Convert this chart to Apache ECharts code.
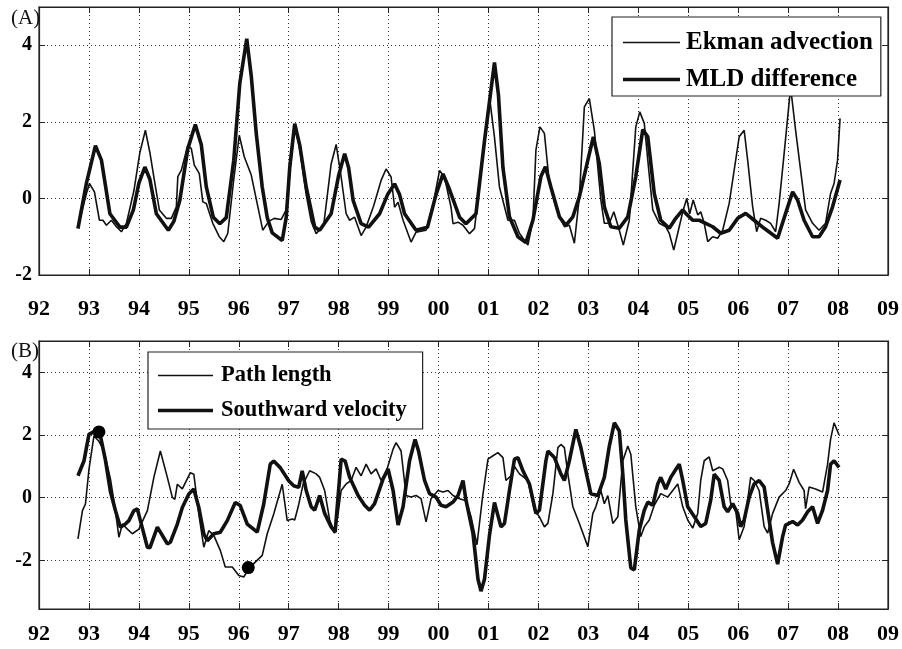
<!DOCTYPE html>
<html>
<head>
<meta charset="utf-8">
<script src="https://cdn.jsdelivr.net/npm/echarts@6/dist/echarts.min.js"></script>
<style>
  html, body { margin: 0; padding: 0; background: #fff; }
  #chart { width: 902px; height: 649px; }
</style>
</head>
<body>
<div id="chart"></div>
<script>
// values, [year, anomaly]
const ekmanAdvection = [
  [1992.78,-0.74],[1992.95,0.13],[1993.01,0.39],[1993.11,0.17],[1993.15,0.13],[1993.21,-0.57],[1993.28,-0.57],
  [1993.35,-0.7],[1993.45,-0.57],[1993.55,-0.74],[1993.65,-0.87],[1993.75,-0.65],[1993.9,0.2],[1994.02,1.2],
  [1994.13,1.78],[1994.22,1.2],[1994.31,0.48],[1994.41,-0.3],[1994.55,-0.52],[1994.65,-0.52],[1994.75,-0.22],
  [1994.78,0.57],[1994.85,0.74],[1994.98,1.39],[1995.05,1.3],[1995.11,0.87],[1995.21,0.65],[1995.28,-0.09],
  [1995.35,-0.13],[1995.48,-0.65],[1995.61,-1.0],[1995.7,-1.13],[1995.78,-0.91],[1995.9,0.5],[1996.01,1.65],
  [1996.11,1.09],[1996.25,0.61],[1996.41,-0.39],[1996.48,-0.83],[1996.6,-0.6],[1996.71,-0.52],[1996.85,-0.55],
  [1996.95,-0.3],[1997.03,0.8],[1997.12,1.9],[1997.22,1.3],[1997.35,0.1],[1997.45,-0.6],[1997.55,-0.92],
  [1997.7,-0.7],[1997.85,0.9],[1997.95,1.41],[1998.05,0.56],[1998.15,-0.4],[1998.22,-0.57],[1998.32,-0.49],
  [1998.45,-0.97],[1998.55,-0.75],[1998.7,-0.2],[1998.85,0.47],[1998.95,0.77],[1999.05,0.56],[1999.12,-0.23],
  [1999.19,-0.1],[1999.29,-0.57],[1999.45,-1.14],[1999.55,-0.88],[1999.75,-0.83],[1999.9,-0.1],[2000.02,0.73],
  [2000.12,0.56],[2000.25,-0.23],[2000.29,-0.66],[2000.39,-0.62],[2000.49,-0.7],[2000.62,-0.92],[2000.72,-0.79],
  [2000.88,1.0],[2001.03,2.55],[2001.12,1.6],[2001.22,0.3],[2001.39,-0.57],[2001.52,-0.57],[2001.62,-0.91],
  [2001.79,-1.22],[2001.89,-0.57],[2001.95,1.26],[2002.03,1.87],[2002.12,1.7],[2002.22,0.39],[2002.35,-0.22],
  [2002.42,-0.48],[2002.52,-0.74],[2002.62,-0.7],[2002.72,-1.17],[2002.82,0.04],[2002.92,2.39],[2003.02,2.61],
  [2003.12,1.78],[2003.25,-0.04],[2003.32,-0.65],[2003.42,-0.65],[2003.51,-0.35],[2003.62,-0.83],[2003.7,-1.22],
  [2003.82,-0.57],[2003.95,1.87],[2004.03,2.26],[2004.12,1.96],[2004.19,1.0],[2004.29,-0.3],[2004.42,-0.65],
  [2004.55,-0.74],[2004.62,-0.91],[2004.71,-1.35],[2004.82,-0.74],[2004.9,-0.3],[2004.97,0.0],[2005.03,-0.4],
  [2005.1,-0.04],[2005.19,-0.43],[2005.25,-0.35],[2005.32,-0.65],[2005.39,-1.13],[2005.49,-1.0],[2005.59,-1.04],
  [2005.69,-0.83],[2005.82,-0.13],[2005.92,0.74],[2006.02,1.61],[2006.12,1.78],[2006.19,1.0],[2006.29,-0.22],
  [2006.37,-0.87],[2006.45,-0.52],[2006.55,-0.57],[2006.65,-0.65],[2006.75,-0.87],[2006.82,-0.13],[2006.92,1.17],
  [2007.05,2.9],[2007.15,1.78],[2007.25,0.74],[2007.35,-0.3],[2007.49,-0.65],[2007.62,-0.83],[2007.75,-0.65],
  [2007.85,0.13],[2007.92,0.39],[2007.99,1.0],[2008.04,2.09]
];

const mldDifference = [
  [1992.78,-0.79],[1992.95,0.4],[1993.13,1.38],[1993.25,1.0],[1993.42,-0.4],[1993.62,-0.75],[1993.75,-0.75],
  [1993.89,-0.3],[1994.0,0.4],[1994.12,0.82],[1994.22,0.5],[1994.35,-0.4],[1994.59,-0.83],[1994.7,-0.6],
  [1994.82,-0.05],[1994.98,1.3],[1995.13,1.93],[1995.25,1.4],[1995.35,0.3],[1995.49,-0.49],[1995.62,-0.66],
  [1995.75,-0.5],[1995.9,1.0],[1996.02,3.0],[1996.16,4.17],[1996.25,3.2],[1996.35,1.7],[1996.47,0.3],
  [1996.57,-0.5],[1996.67,-0.9],[1996.87,-1.1],[1996.95,-0.5],[1997.02,0.8],[1997.12,1.95],[1997.22,1.4],
  [1997.35,0.3],[1997.52,-0.75],[1997.62,-0.83],[1997.85,-0.4],[1998.0,0.6],[1998.12,1.17],[1998.2,0.8],
  [1998.29,-0.05],[1998.45,-0.66],[1998.6,-0.75],[1998.82,-0.4],[1998.98,0.1],[1999.12,0.38],[1999.22,0.1],
  [1999.32,-0.4],[1999.55,-0.83],[1999.78,-0.75],[1999.95,0.1],[2000.09,0.64],[2000.2,0.3],[2000.42,-0.49],
  [2000.55,-0.66],[2000.75,-0.4],[2000.92,1.5],[2001.12,3.55],[2001.2,2.7],[2001.29,0.8],[2001.42,-0.48],
  [2001.59,-1.0],[2001.75,-1.15],[2001.89,-0.57],[2002.05,0.57],[2002.14,0.83],[2002.25,0.3],[2002.42,-0.48],
  [2002.55,-0.7],[2002.69,-0.48],[2002.82,0.04],[2002.99,1.0],[2003.1,1.61],[2003.22,0.91],[2003.32,-0.22],
  [2003.45,-0.74],[2003.62,-0.78],[2003.79,-0.48],[2003.95,0.57],[2004.09,1.8],[2004.19,1.61],[2004.32,0.13],
  [2004.45,-0.57],[2004.62,-0.78],[2004.75,-0.52],[2004.89,-0.3],[2004.95,-0.39],[2005.09,-0.57],[2005.22,-0.57],
  [2005.35,-0.65],[2005.49,-0.74],[2005.65,-0.91],[2005.82,-0.83],[2005.99,-0.52],[2006.15,-0.39],[2006.32,-0.57],
  [2006.52,-0.78],[2006.79,-1.04],[2006.95,-0.39],[2007.09,0.17],[2007.19,-0.04],[2007.32,-0.57],[2007.49,-1.0],
  [2007.62,-1.0],[2007.75,-0.74],[2007.89,-0.22],[2008.04,0.48]
];

const pathLength = [
  [1992.78,-1.31],[1992.87,-0.41],[1992.93,-0.2],[1993.0,0.9],[1993.1,1.97],[1993.2,1.8],[1993.3,1.5],
  [1993.43,0.6],[1993.52,-0.3],[1993.6,-1.26],[1993.67,-0.84],[1993.77,-1.0],[1993.87,-1.15],[1994.0,-1.0],
  [1994.17,-0.41],[1994.3,0.65],[1994.43,1.49],[1994.57,0.65],[1994.67,0.01],[1994.72,-0.05],[1994.77,0.43],
  [1994.87,0.28],[1995.03,0.8],[1995.1,0.75],[1995.2,-0.52],[1995.3,-1.58],[1995.4,-1.05],[1995.5,-1.2],
  [1995.63,-1.68],[1995.73,-2.21],[1995.87,-2.21],[1996.0,-2.48],[1996.1,-2.53],[1996.2,-2.26],[1996.3,-2.1],
  [1996.47,-1.84],[1996.57,-1.15],[1996.7,-0.52],[1996.87,0.43],[1996.97,-0.73],[1997.07,-0.68],[1997.12,-0.71],
  [1997.19,-0.29],[1997.29,0.44],[1997.42,0.86],[1997.55,0.76],[1997.62,0.65],[1997.72,0.23],[1997.82,-0.71],
  [1997.92,-1.13],[1997.99,-0.5],[1998.05,0.23],[1998.15,0.44],[1998.25,0.55],[1998.35,0.97],[1998.45,0.7],
  [1998.55,1.07],[1998.65,0.76],[1998.75,0.92],[1998.85,0.55],[1998.95,0.81],[1999.09,1.55],[1999.15,1.76],
  [1999.25,1.49],[1999.35,0.07],[1999.45,0.02],[1999.55,0.07],[1999.65,-0.03],[1999.75,-0.77],[1999.85,-0.03],
  [1999.99,0.23],[2000.09,0.18],[2000.19,0.23],[2000.29,0.07],[2000.42,-0.03],[2000.55,-0.1],[2000.65,-0.6],
  [2000.77,-1.5],[2000.88,0.0],[2000.99,1.23],[2001.09,1.34],[2001.19,1.44],[2001.29,1.28],[2001.35,0.55],
  [2001.45,0.7],[2001.52,1.0],[2001.62,0.76],[2001.79,0.55],[2001.92,-0.4],[2002.02,-0.61],[2002.12,-0.93],
  [2002.19,-0.82],[2002.29,0.13],[2002.39,1.6],[2002.45,1.7],[2002.52,1.6],[2002.59,0.76],[2002.69,-0.29],
  [2002.82,-0.82],[2002.99,-1.56],[2003.09,-0.5],[2003.15,-0.29],[2003.25,0.23],[2003.32,-0.19],[2003.39,0.07],
  [2003.49,-0.82],[2003.59,-0.61],[2003.69,1.18],[2003.79,1.65],[2003.85,1.39],[2003.95,-0.29],[2004.05,-1.24],
  [2004.12,-0.93],[2004.22,-0.71],[2004.32,-0.24],[2004.45,0.13],[2004.59,0.02],[2004.69,0.23],[2004.79,0.44],
  [2004.89,-0.29],[2004.99,-0.71],[2005.09,-0.97],[2005.19,-0.5],[2005.25,0.55],[2005.32,1.18],[2005.42,1.3],
  [2005.49,0.86],[2005.62,0.97],[2005.69,0.92],[2005.79,0.55],[2005.85,-0.19],[2005.95,-0.4],[2006.02,-1.34],
  [2006.12,-0.92],[2006.25,0.65],[2006.32,0.55],[2006.42,0.23],[2006.52,-0.92],[2006.59,-1.13],[2006.69,-0.5],
  [2006.82,0.02],[2006.95,0.23],[2007.02,0.44],[2007.11,0.91],[2007.22,0.49],[2007.32,0.23],[2007.35,-0.35],
  [2007.42,0.34],[2007.55,0.28],[2007.69,0.18],[2007.79,1.07],[2007.85,1.86],[2007.92,2.39],[2008.02,2.0]
];

const southwardVelocity = [
  [1992.78,0.7],[1992.9,1.17],[1993.0,2.02],[1993.13,2.13],[1993.23,1.97],[1993.33,1.2],[1993.43,0.2],
  [1993.53,-0.41],[1993.63,-0.94],[1993.73,-0.84],[1993.8,-0.73],[1993.9,-0.41],[1993.97,-0.36],[1994.03,-0.73],
  [1994.17,-1.58],[1994.22,-1.6],[1994.37,-0.94],[1994.57,-1.47],[1994.63,-1.42],[1994.77,-0.84],[1994.87,-0.31],
  [1995.0,0.12],[1995.1,0.28],[1995.2,-0.31],[1995.3,-1.15],[1995.37,-1.37],[1995.5,-1.15],[1995.63,-1.1],
  [1995.77,-0.73],[1995.93,-0.15],[1996.03,-0.25],[1996.17,-0.84],[1996.37,-1.1],[1996.5,-0.2],[1996.63,1.07],
  [1996.7,1.17],[1996.83,0.96],[1997.0,0.54],[1997.1,0.38],[1997.2,0.33],[1997.27,0.86],[1997.35,0.23],
  [1997.45,-0.29],[1997.52,-0.4],[1997.62,0.07],[1997.72,-0.5],[1997.85,-0.93],[1997.93,-1.1],[1998.05,1.23],
  [1998.13,1.17],[1998.22,0.65],[1998.39,0.07],[1998.52,-0.24],[1998.62,-0.4],[1998.72,-0.19],[1998.89,0.6],
  [1998.99,0.92],[1999.09,0.23],[1999.19,-0.87],[1999.29,-0.29],[1999.42,1.18],[1999.53,1.86],[1999.6,1.49],
  [1999.72,0.55],[1999.82,0.13],[1999.95,0.02],[2000.05,-0.24],[2000.15,-0.29],[2000.29,-0.14],[2000.39,0.07],
  [2000.49,0.55],[2000.55,-0.08],[2000.69,-1.14],[2000.79,-2.6],[2000.85,-2.98],[2000.92,-2.6],[2001.02,-1.2],
  [2001.12,-0.15],[2001.25,-0.93],[2001.32,-0.82],[2001.42,0.23],[2001.52,1.23],[2001.59,1.28],[2001.69,0.86],
  [2001.82,0.44],[2001.95,-0.5],[2002.02,-0.4],[2002.15,1.18],[2002.19,1.49],[2002.32,1.28],[2002.45,0.76],
  [2002.52,0.55],[2002.62,1.18],[2002.75,2.18],[2002.85,1.6],[2002.95,0.86],[2003.05,0.13],[2003.19,0.07],
  [2003.32,0.65],[2003.42,1.65],[2003.52,2.39],[2003.62,2.13],[2003.69,0.76],[2003.75,-0.71],[2003.85,-2.24],
  [2003.92,-2.3],[2004.02,-1.03],[2004.12,-0.4],[2004.19,-0.14],[2004.29,-0.24],[2004.39,0.44],[2004.45,0.65],
  [2004.55,0.28],[2004.65,0.65],[2004.75,0.9],[2004.82,1.07],[2004.89,0.55],[2004.99,-0.29],[2005.12,-0.6],
  [2005.25,-0.92],[2005.35,-0.82],[2005.45,-0.08],[2005.52,0.75],[2005.62,0.55],[2005.72,-0.29],[2005.79,-0.45],
  [2005.89,-0.19],[2005.99,-0.5],[2006.05,-0.92],[2006.12,-0.71],[2006.22,0.02],[2006.32,0.44],[2006.42,0.55],
  [2006.52,0.34],[2006.62,-0.71],[2006.69,-1.44],[2006.79,-2.12],[2006.89,-1.24],[2006.95,-0.87],[2007.09,-0.76],
  [2007.19,-0.87],[2007.29,-0.71],[2007.39,-0.45],[2007.49,-0.29],[2007.59,-0.82],[2007.69,-0.4],[2007.79,0.23],
  [2007.85,1.07],[2007.92,1.18],[2008.02,0.97]
];

// the two marked events in panel B
const markedPoints = [[1993.2, 2.1], [1996.19, -2.23]];

const yTicks = [-2, 0, 2, 4];

const serif = "'Liberation Serif', 'Times New Roman', serif";
const chart = echarts.init(document.getElementById('chart'));

const frame = { show: true, onZero: false, lineStyle: { color: '#222', width: 1.2 } };
const tick = { show: true, inside: true, length: 6, lineStyle: { color: '#222' } };
const dotted = { show: true, lineStyle: { color: '#333', type: [1, 3], width: 1 } };

function bottomAxis(grid, margin) {
  return {
    gridIndex: grid, type: 'value', position: 'bottom', min: 1992, max: 2009, interval: 1,
    axisLine: frame, axisTick: tick,
    axisLabel: {
      margin: margin, color: '#000', fontFamily: serif, fontWeight: 'bold', fontSize: 22,
      formatter: v => String(Math.round(v) % 100).padStart(2, '0')
    },
    splitLine: dotted
  };
}
function topAxis(grid) {
  return {
    gridIndex: grid, type: 'value', position: 'top', min: 1992, max: 2009, interval: 1,
    axisLine: frame, axisTick: tick, axisLabel: { show: false }, splitLine: { show: false }
  };
}
function leftAxis(grid, min) {
  return {
    gridIndex: grid, type: 'value', position: 'left', min: min, max: 5,
    axisLine: frame, axisTick: Object.assign({ customValues: yTicks }, tick),
    axisLabel: { margin: 7, customValues: yTicks, color: '#000', fontFamily: serif, fontWeight: 'bold', fontSize: 20 },
    splitLine: dotted
  };
}
function rightAxis(grid, min) {
  return {
    gridIndex: grid, type: 'value', position: 'right', min: min, max: 5,
    axisLine: frame, axisTick: Object.assign({ customValues: yTicks }, tick),
    axisLabel: { show: false }, splitLine: { show: false }
  };
}

function lineSeries(name, data, axis, width) {
  return {
    name: name, type: 'line', data: data, xAxisIndex: axis, yAxisIndex: axis,
    symbol: 'none', smooth: false,
    lineStyle: { color: '#111', width: width }, itemStyle: { color: '#111' }
  };
}

const thinIcon = 'path://M0,0H57V1.6H0Z';
const thickIcon = 'path://M0,0H57V3.6H0Z';

chart.setOption({
  animation: false,
  backgroundColor: '#fff',
  title: [
    { text: '(A)', left: 6, top: 3, textStyle: { fontFamily: serif, fontWeight: 'normal', fontSize: 21, color: '#111' } },
    { text: '(B)', left: 6, top: 336, textStyle: { fontFamily: serif, fontWeight: 'normal', fontSize: 21, color: '#111' } }
  ],
  grid: [
    { left: 39, top: 7, width: 850, height: 268, show: true, borderColor: '#222', borderWidth: 1.2, backgroundColor: 'transparent' },
    { left: 39, top: 341, width: 850, height: 268, show: true, borderColor: '#222', borderWidth: 1.2, backgroundColor: 'transparent' }
  ],
  legend: [
    {
      data: [{ name: 'Ekman advection', icon: thinIcon }, { name: 'MLD difference', icon: thickIcon }],
      orient: 'vertical', left: 612, top: 17,
      padding: [13, 8, 4, 11], itemWidth: 57, itemHeight: 24, itemGap: 12,
      backgroundColor: '#fff', borderColor: '#222', borderWidth: 1.2,
      textStyle: { fontFamily: serif, fontWeight: 'bold', fontSize: 25, lineHeight: 24, color: '#000', padding: [0, 0, 0, 1] }
    },
    {
      data: [{ name: 'Path length', icon: thinIcon }, { name: 'Southward velocity', icon: thickIcon }],
      orient: 'vertical', left: 148, top: 352,
      padding: [12, 16, 7, 10], itemWidth: 55, itemHeight: 22, itemGap: 12,
      backgroundColor: '#fff', borderColor: '#222', borderWidth: 1.2,
      textStyle: { fontFamily: serif, fontWeight: 'bold', fontSize: 22.5, lineHeight: 22, color: '#000', padding: [0, 0, 0, 3] }
    }
  ],
  xAxis: [bottomAxis(0, 23), topAxis(0), bottomAxis(1, 14), topAxis(1)],
  yAxis: [leftAxis(0, -2), rightAxis(0, -2), leftAxis(1, -3.55), rightAxis(1, -3.55)],
  series: [
    lineSeries('Ekman advection', ekmanAdvection, 0, 1.6),
    lineSeries('MLD difference', mldDifference, 0, 3.6),
    lineSeries('Path length', pathLength, 2, 1.6),
    lineSeries('Southward velocity', southwardVelocity, 2, 3.6),
    {
      type: 'scatter', data: markedPoints, xAxisIndex: 2, yAxisIndex: 2,
      symbolSize: 13, itemStyle: { color: '#000', opacity: 1 }, z: 5
    }
  ]
});
</script>
</body>
</html>
